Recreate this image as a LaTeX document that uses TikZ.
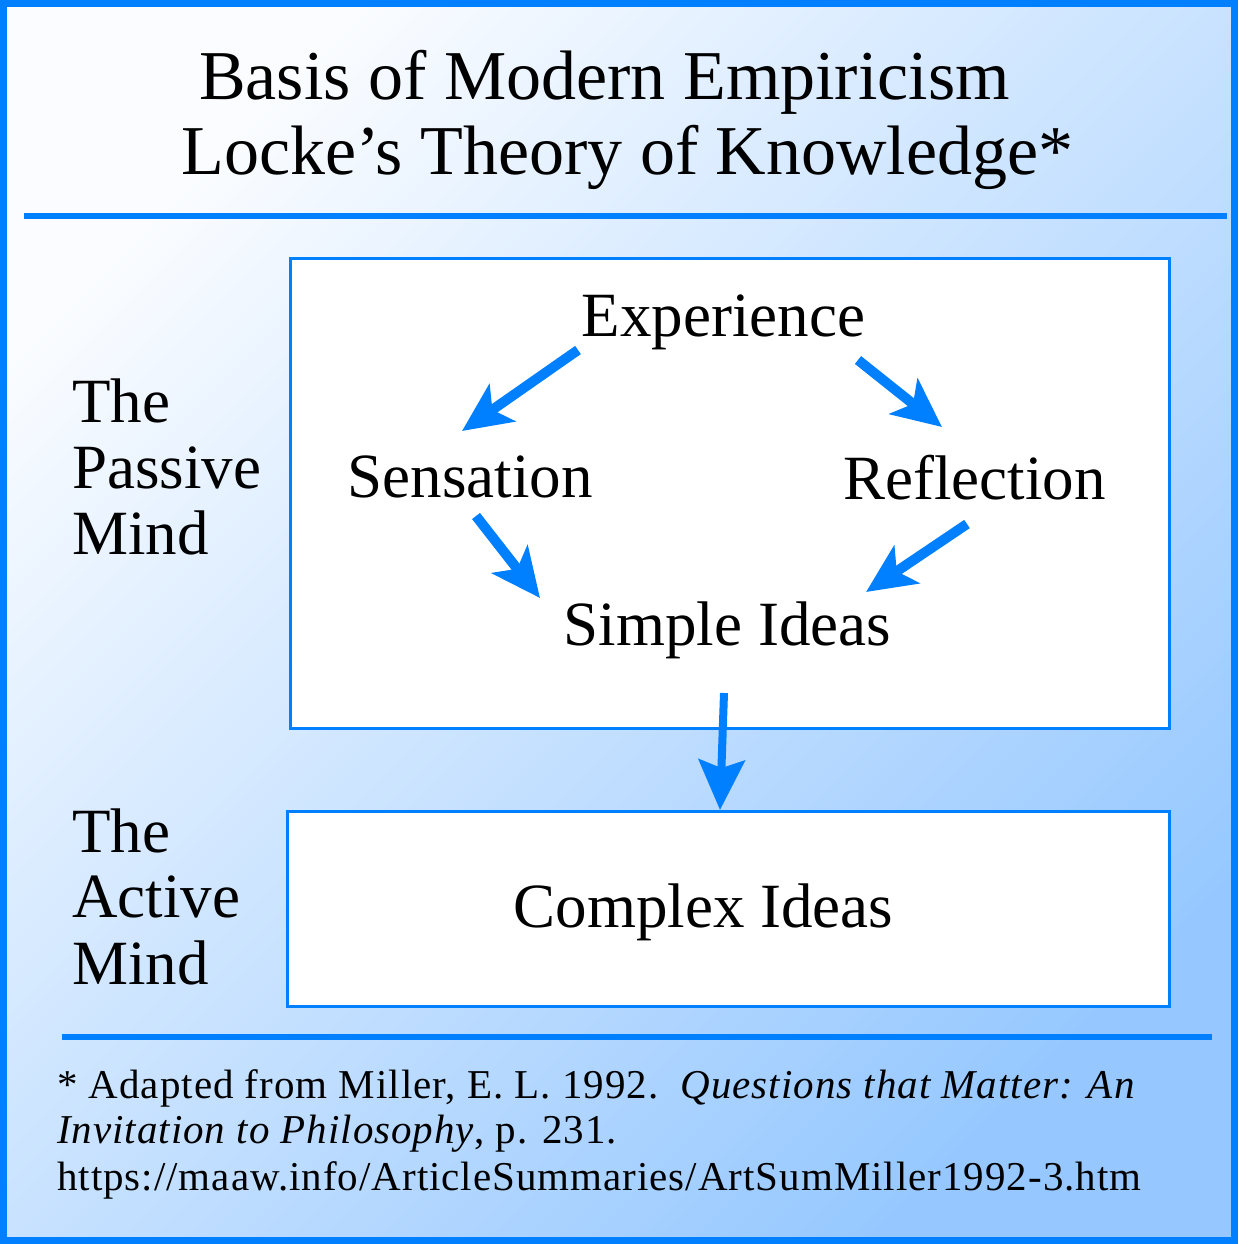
\documentclass[tikz,border=0pt]{standalone}
\usepackage{fontspec}
\setmainfont{Liberation Serif}
\newfontfamily\footfont[LetterSpace=2.4]{Liberation Serif}
\usetikzlibrary{arrows.meta}
\definecolor{bblue}{RGB}{0,128,255}
\definecolor{bgtl}{RGB}{250,252,255}
\definecolor{bgbr}{RGB}{150,200,255}
\begin{document}
\begin{tikzpicture}[x=1pt,y=-1pt,
 lbl/.style={font=\fontsize{63}{66}\selectfont, inner sep=0pt, anchor=base},
 side/.style={font=\fontsize{63}{66}\selectfont, inner sep=0pt, anchor=base west},
 ttl/.style={font=\fontsize{70}{74}\selectfont, inner sep=0pt, anchor=base},
 foot/.style={font=\footfont\fontsize{41}{44}\selectfont, inner sep=0pt, anchor=base west},
 frame/.style={draw=bblue, line width=3pt, fill=white, inner sep=0pt, anchor=north west},
 rule/.style={draw=bblue, line width=6pt},
 arr/.style={draw=bblue, line width=10pt, -{Stealth[length=49pt,width=45pt,inset=12pt]}}]
\useasboundingbox (0,0) rectangle (1238,1244);
\shade[top color=bgtl, bottom color=bgbr, shading angle=45] (0,0) rectangle (1238,1244);
\draw[draw=bblue, line width=7pt] (3.5,3.5) rectangle (1234.5,1240.5);
% title
\node[ttl] (t1) at (604.5,100) {Basis of Modern Empiricism};
\node[ttl] (t2) at (627.5,174) {Locke’s Theory of Knowledge*};
\draw[rule] (24,216) -- (1227,216);
% boxes
\node[frame, minimum width=879pt, minimum height=470pt] (passivebox) at (289,257) {};
\node[frame, minimum width=882pt, minimum height=195pt] (activebox) at (286,810) {};
% side labels
\node[side] (p1) at (72,422) {The};
\node[side] (p2) at (72,488) {Passive};
\node[side] (p3) at (72,554) {Mind};
\node[side] (q1) at (72,852) {The};
\node[side] (q2) at (72,917) {Active};
\node[side] (q3) at (72,984) {Mind};
% inner labels
\node[lbl] (exp) at (723.5,336) {Experience};
\node[lbl] (sen) at (470,497) {Sensation};
\node[lbl] (ref) at (974.5,499) {Reflection};
\node[lbl] (sim) at (727.5,645) {Simple Ideas};
\node[lbl] (cpx) at (703.5,927) {Complex Ideas};
% arrow ends
\coordinate (e1) at (578,350);
\coordinate (s1) at (462,431);
\coordinate (e2) at (858,360);
\coordinate (r1) at (942,427);
\coordinate (s2) at (476,516);
\coordinate (m1) at (540,598);
\coordinate (r2) at (967,524);
\coordinate (m2) at (866,592);
\coordinate (m3) at (724,693);
\coordinate (c1) at (720,810);
\draw[arr] (e1) -- (s1);
\draw[arr] (e2) -- (r1);
\draw[arr] (s2) -- (m1);
\draw[arr] (r2) -- (m2);
\draw[arr, line width=8pt, -{Stealth[length=50pt,width=46pt,inset=8pt]}] (m3) -- (c1);
% bottom rule and footnote
\draw[rule] (62,1037) -- (1212,1037);
\node[foot] (f1) at (57,1098) {* Adapted from Miller, E. L. 1992.\ \ \textit{Questions that Matter: An}};
\node[foot] (f2) at (57,1143) {\textit{Invitation to Philosophy}, p. 231.};
\node[foot] (f3) at (57,1190) {https://maaw.info/ArticleSummaries/ArtSumMiller1992-3.htm};
\end{tikzpicture}
\end{document}
